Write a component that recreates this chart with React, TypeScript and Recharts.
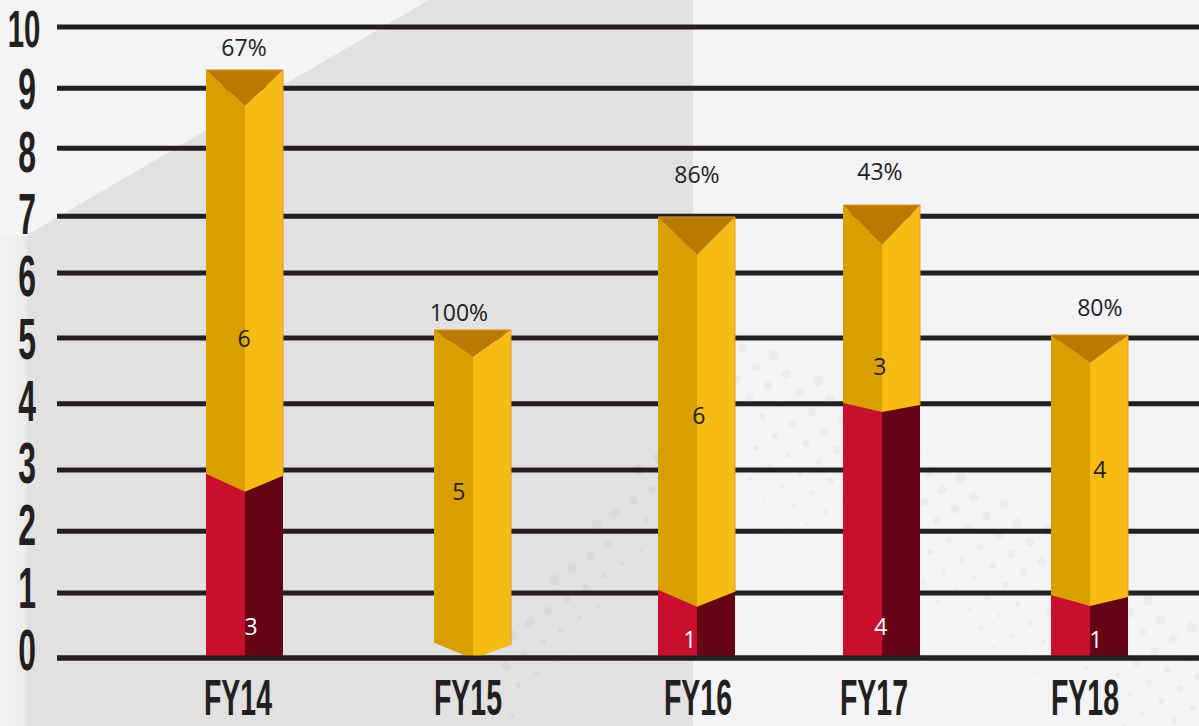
import { Bar, BarChart, CartesianGrid, LabelList, ReferenceLine, XAxis, YAxis } from 'recharts';

const categories = ['FY14', 'FY15', 'FY16', 'FY17', 'FY18'];
// printed counts on the bars
const redCounts = [3, 0, 1, 4, 1];
const goldCounts = [6, 5, 6, 3, 4];
const percents = ['67%', '100%', '86%', '43%', '80%'];
// the heights as drawn in the picture, which overshoot the printed counts
const redHeights = [2.92, 0.24, 1.08, 4.04, 1.0];
const goldHeights = [6.4, 4.96, 5.91, 3.14, 4.12];
const yTicks = [0, 1, 2, 3, 4, 5, 6, 7, 8, 9, 10];
// the rules are not evenly spaced in the picture
const gridLevels = [0, 1.03, 2.01, 2.98, 4.03, 5.07, 6.1, 7.0, 8.08, 9.03, 10];

const data = categories.map((name, i) => ({
  name,
  red: redHeights[i],
  gold: goldHeights[i],
  redCount: redCounts[i],
  goldCount: goldCounts[i],
  percent: percents[i],
}));

// layout tweaks per bar, the columns are not evenly spaced
const barShift = [0, 16.7, 29.5, 3.3, 0];
const tickShift = [-6.6, 12.2, 31, -4.2, -4.4];
const topNotch = [36, 27, 38, 40, 28];
const bottomNotch = [18, 16, 17, 9, 11];
const goldLabel = [
  [-0.5, 269],
  [-13.5, 162],
  [2.5, 199],
  [-1.5, 162],
  [10.5, 135],
];
const redLabel = [
  [6.5, -31],
  [0, 0],
  [-6.5, -18],
  [-0.5, -31],
  [6.5, -18],
];
const percentLabel = [
  [-0.5, -22],
  [-13.5, -17],
  [0.5, -42],
  [-1.5, -33],
  [10.5, -27],
];

const INK = '#231f20';
const LABEL_FONT = '"Open Sans", sans-serif';
const AXIS_FONT = '"Liberation Sans Narrow", "Liberation Sans", sans-serif';

function RedShape({ x, y, width, height, index }: any) {
  if (redCounts[index] === 0) return null;
  const left = Math.round(x + barShift[index]);
  const half = Math.round(width / 2);
  return (
    <g>
      <rect x={left} y={y} width={half} height={height} fill="#c8102e" />
      <rect x={left + half} y={y} width={width - half} height={height} fill="#640414" />
    </g>
  );
}

function GoldShape({ x, y, width, height, index }: any) {
  const left = Math.round(x + barShift[index]);
  const mid = left + Math.round(width / 2);
  const right = left + width;
  const bottom = y + height;
  const top = topNotch[index];
  const low = bottomNotch[index];
  return (
    <g>
      <polygon points={`${left},${y} ${mid},${y + top} ${mid},${bottom + low} ${left},${bottom}`} fill="#d99e00" />
      <polygon points={`${right},${y} ${mid},${y + top} ${mid},${bottom + low} ${right},${bottom + 2}`} fill="#f7bb14" />
      <polygon points={`${left},${y} ${right},${y} ${mid},${y + top}`} fill="#b87a00" />
      <line x1={right} y1={y} x2={right} y2={bottom + 2} stroke="#e39a20" strokeWidth={1} />
      <line x1={left} y1={y} x2={right} y2={y} stroke="#e39a20" strokeWidth={1} />
    </g>
  );
}

function GoldCountLabel({ x, y, width, index, value }: any) {
  const cx = x + width / 2 + barShift[index] + goldLabel[index][0];
  return (
    <text x={cx} y={y + goldLabel[index][1]} dy="0.36em" textAnchor="middle" fontFamily={LABEL_FONT} fontSize={23} fill="#222222">
      {value}
    </text>
  );
}

function RedCountLabel({ x, y, width, height, index, value }: any) {
  if (!value) return null;
  const cx = x + width / 2 + barShift[index] + redLabel[index][0];
  return (
    <text x={cx} y={y + height + redLabel[index][1]} dy="0.36em" textAnchor="middle" fontFamily={LABEL_FONT} fontSize={23} fill="#ffffff">
      {value}
    </text>
  );
}

function PercentLabel({ x, y, width, index, value }: any) {
  const cx = x + width / 2 + barShift[index] + percentLabel[index][0];
  return (
    <text x={cx} y={y + percentLabel[index][1]} dy="0.36em" textAnchor="middle" fontFamily={LABEL_FONT} fontSize={23} fill="#222222">
      {value}
    </text>
  );
}

function CategoryTick({ x, y, index, payload }: any) {
  return (
    <text
      transform={`translate(${x + tickShift[index]},${y + 49}) scale(0.57,1)`}
      textAnchor="middle"
      fontFamily={AXIS_FONT}
      fontWeight={700}
      fontSize={50}
      fill={INK}
    >
      {payload.value}
    </text>
  );
}

function ValueTick({ y, payload }: any) {
  const v = payload.value;
  const isTop = v === 10;
  return (
    <text
      transform={`translate(${isTop ? 24 : 27},${y + 12 + 0.8 * v}) scale(${isTop ? 0.565 : 0.55},1)`}
      textAnchor="middle"
      fontFamily={AXIS_FONT}
      fontWeight={700}
      fontSize={isTop ? 52 : 58}
      fill={INK}
    >
      {v}
    </text>
  );
}

// faint dot texture behind the chart
function Backdrop() {
  const dots = [];
  for (let i = -14; i < 32; i++) {
    for (let j = -6; j < 30; j++) {
      const px = 520 + i * 31 + j * 12.6;
      const py = 330 + i * 7 + j * 19;
      if (px < 500 || px > 1199 || py > 726) continue;
      const edge = px < 745 ? 330 + (745 - px) * 1.3 : 330 + (px - 745) * 0.65;
      if (py < edge) continue;
      const r = Math.max(1, 5.5 - (py - edge) / (px < 745 ? 25 : 40));
      dots.push(<circle key={`${i}-${j}`} cx={px} cy={py} r={r} fill="#000000" fillOpacity={0.03} />);
    }
  }
  return (
    <svg width={1199} height={726} style={{ position: 'absolute', left: 0, top: 0 }}>
      <defs>
        <linearGradient id="edgeFade" x1="0" x2="1" y1="0" y2="0">
          <stop offset="0" stopColor="#f4f3f4" />
          <stop offset="1" stopColor="#eaeae9" />
        </linearGradient>
      </defs>
      <polygon points="27,235 429,0 693,0 693,726 27,726" fill="#e2e1df" />
      <rect x={0} y={235} width={27} height={491} fill="url(#edgeFade)" />
      {dots}
    </svg>
  );
}

export default function App() {
  return (
    <div style={{ position: 'absolute', left: 0, top: 0, width: 1199, height: 726, background: '#f4f3f5', overflow: 'hidden' }}>
      <Backdrop />
      <div style={{ position: 'absolute', left: 0, top: 0 }}>
        <BarChart width={1199} height={726} data={data} barSize={77} margin={{ top: 27, right: 0, bottom: 0, left: 0 }}>
          <CartesianGrid vertical={false} horizontalValues={gridLevels} stroke={INK} strokeWidth={5} strokeOpacity={1} />
          <XAxis
            dataKey="name"
            height={68}
            interval={0}
            padding={{ left: 82, right: 4 }}
            axisLine={false}
            tickLine={false}
            tick={<CategoryTick />}
          />
          <YAxis width={57} domain={[0, 10]} ticks={yTicks} interval={0} axisLine={false} tickLine={false} tick={<ValueTick />} />
          <Bar dataKey="red" stackId="a" isAnimationActive={false} shape={<RedShape />}>
            <LabelList dataKey="redCount" content={<RedCountLabel />} />
          </Bar>
          <Bar dataKey="gold" stackId="a" isAnimationActive={false} shape={<GoldShape />}>
            <LabelList dataKey="goldCount" content={<GoldCountLabel />} />
            <LabelList dataKey="percent" content={<PercentLabel />} />
          </Bar>
          <ReferenceLine y={0} stroke={INK} strokeWidth={5} />
        </BarChart>
      </div>
    </div>
  );
}
